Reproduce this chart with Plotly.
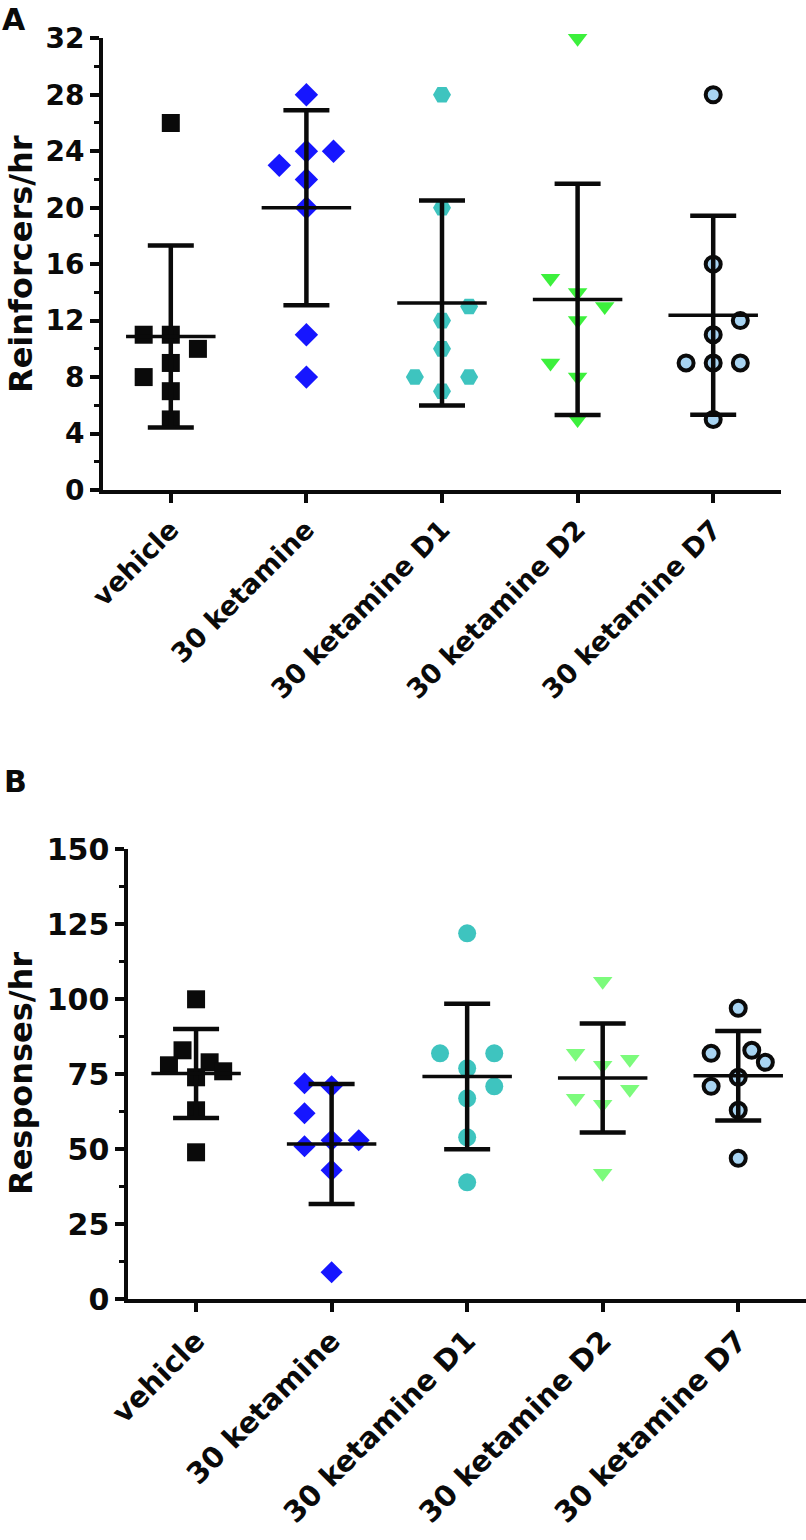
import numpy as np
import plotly.graph_objects as go

W, H = 806, 1540


def px_x(x):
    return x / W


def px_y(y):
    return (H - y) / H


categories = ["vehicle", "30 ketamine", "30 ketamine D1", "30 ketamine D2", "30 ketamine D7"]

# Panel A: reinforcers/hr per animal
a_vehicle = [26, 11, 11, 10, 9, 8, 7, 5]
a_ket = [28, 24, 24, 23, 22, 20, 11, 8]
a_d1 = [28, 20, 13, 12, 10, 8, 8, 7]
a_d2 = [32, 15, 14, 13, 12, 9, 8, 5]
a_d7 = [28, 16, 12, 11, 9, 9, 9, 5]

# Panel B: responses/hr per animal
b_vehicle = [100, 83, 79, 78, 76, 74, 63, 49]
b_ket = [72, 71, 62, 53, 51, 53, 43, 9]
b_d1 = [122, 82, 82, 77, 71, 67, 54, 39]
b_d2 = [106, 82, 80, 78, 70, 67, 65, 42]
b_d7 = [97, 82, 83, 79, 74, 71, 63, 47]

# horizontal scatter slots (column spreading, in slot units)
a_slots = [
    [0, -2, 0, 2, 0, -2, 0, 0],
    [0, 0, 2, -2, 0, 0, 0, 0],
    [0, 0, 2, 0, 0, -2, 2, 0],
    [0, -2, 0, 2, 0, -2, 0, 0],
    [0, 0, 2, 0, -2, 0, 2, 0],
]
b_slots = [
    [0, -1, 1, -2, 2, 0, 0, 0],
    [-2, 0, -2, 0, -2, 2, 0, 0],
    [0, -2, 2, 0, 2, 0, 0, 0],
    [0, -2, 2, 0, 2, -2, 0, 0],
    [0, -2, 1, 2, 0, -2, 0, 0],
]

a_ticks = [0, 4, 8, 12, 16, 20, 24, 28, 32]
b_ticks = [0, 25, 50, 75, 100, 125, 150]

SLOT = 0.1
BLACK = "#0a0a0a"
FONT = "DejaVu Sans"

styles_a = [
    dict(symbol="square", size=18, color=BLACK),
    dict(symbol="diamond", size=18, color="#1616ff"),
    dict(symbol="hexagon2", size=18, color="#3ec4bf"),
    dict(symbol="triangle-down", size=17, color="#3cf03c"),
    dict(symbol="circle", size=15, color="#a8d4f2", line=dict(color=BLACK, width=4)),
]
styles_b = [
    dict(symbol="square", size=18, color=BLACK),
    dict(symbol="diamond", size=17, color="#1616ff"),
    dict(symbol="circle", size=18, color="#3ec4bf"),
    dict(symbol="triangle-down", size=17, color="#7cfb7c"),
    dict(symbol="circle", size=15, color="#a8d4f2", line=dict(color=BLACK, width=4)),
]

fig = go.Figure()


def add_panel(groups, slots, styles, xa, ya):
    for i, (vals, sl, st) in enumerate(zip(groups, slots, styles)):
        fig.add_trace(go.Scatter(
            x=[i + s * SLOT for s in sl], y=vals, mode="markers", cliponaxis=False,
            marker=st, xaxis=xa, yaxis=ya, hoverinfo="skip", showlegend=False))
    means = [float(np.mean(g)) for g in groups]
    sds = [float(np.std(g, ddof=1)) for g in groups]
    fig.add_trace(go.Scatter(
        x=list(range(len(groups))), y=means, mode="markers", cliponaxis=False,
        marker=dict(size=1, color="rgba(0,0,0,0)"),
        error_y=dict(type="data", array=sds, visible=True, width=23,
                     thickness=4.5, color=BLACK),
        xaxis=xa, yaxis=ya, hoverinfo="skip", showlegend=False))
    mx, my = [], []
    for i, m in enumerate(means):
        mx += [i - 0.33, i + 0.33, None]
        my += [m, m, None]
    fig.add_trace(go.Scatter(x=mx, y=my, mode="lines", cliponaxis=False,
                             line=dict(color=BLACK, width=3.5),
                             xaxis=xa, yaxis=ya, hoverinfo="skip", showlegend=False))


add_panel([a_vehicle, a_ket, a_d1, a_d2, a_d7], a_slots, styles_a, "x", "y")
add_panel([b_vehicle, b_ket, b_d1, b_d2, b_d7], b_slots, styles_b, "x2", "y2")

ax_common = dict(showgrid=False, zeroline=False, showline=True, linecolor=BLACK,
                 linewidth=4, ticks="outside", tickcolor=BLACK, tickwidth=3.5,
                 ticklen=9, fixedrange=True, automargin=False)

fig.update_layout(
    template="none",
    width=W, height=H, margin=dict(l=0, r=0, t=0, b=0, pad=0),
    paper_bgcolor="white", plot_bgcolor="white", showlegend=False,
    font=dict(family=FONT, color=BLACK, weight="bold"),
    xaxis=dict(domain=[px_x(103), px_x(781)], range=[-0.5, 4.5], anchor="y",
               tickvals=list(range(5)), ticktext=categories, tickangle=-45,
               tickfont=dict(family=FONT, size=27, color=BLACK, weight="bold"),
               **ax_common),
    yaxis=dict(domain=[px_y(490), px_y(38.3)], range=[0, 32], anchor="x",
               tickvals=a_ticks,
               tickfont=dict(family=FONT, size=28, color=BLACK, weight="bold"),
               minor=dict(dtick=2, ticks="outside", ticklen=5, tickwidth=3, tickcolor=BLACK),
               **ax_common),
    xaxis2=dict(domain=[px_x(128.3), 1.0], range=[-0.5, 4.5], anchor="y2",
                tickvals=list(range(5)), ticktext=categories, tickangle=-45,
                tickfont=dict(family=FONT, size=29, color=BLACK, weight="bold"),
                **ax_common),
    yaxis2=dict(domain=[px_y(1299.3), px_y(849.3)], range=[0, 150], anchor="x2",
                tickvals=b_ticks,
                tickfont=dict(family=FONT, size=30, color=BLACK, weight="bold"),
                minor=dict(dtick=12.5, ticks="outside", ticklen=5, tickwidth=3, tickcolor=BLACK),
                **ax_common),
)

ann_font = dict(family=FONT, color=BLACK, weight="bold")
fig.add_annotation(text="A", x=px_x(0), y=px_y(0), xref="paper", yref="paper", xanchor="left",
                   yanchor="top", showarrow=False, font=dict(size=30, **ann_font))
fig.add_annotation(text="B", x=px_x(2), y=px_y(762), xref="paper", yref="paper",
                   xanchor="left", yanchor="top", showarrow=False, font=dict(size=30, **ann_font))
fig.add_annotation(text="Reinforcers/hr", x=px_x(0), y=px_y(264), xref="paper",
                   yref="paper", xanchor="left", yanchor="middle", textangle=-90,
                   showarrow=False, font=dict(size=32, **ann_font))
fig.add_annotation(text="Responses/hr", x=px_x(0), y=px_y(1074), xref="paper",
                   yref="paper", xanchor="left", yanchor="middle", textangle=-90,
                   showarrow=False, font=dict(size=32, **ann_font))

# remove the browser's default 8px page margin so the figure fills the window
fig.write_html("out.html", config={"displayModeBar": False},
               post_script="document.body.style.margin='0';")
